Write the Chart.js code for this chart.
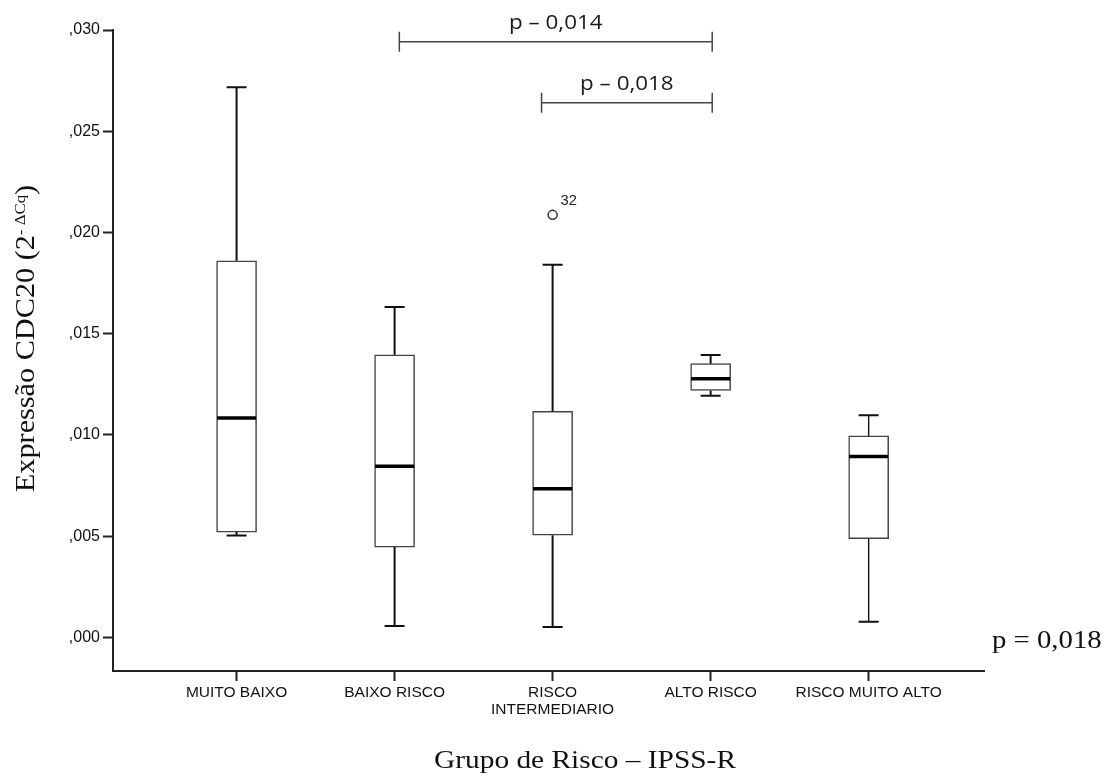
<!DOCTYPE html>
<html>
<head>
<meta charset="utf-8">
<script src="https://cdn.jsdelivr.net/npm/chart.js@4.4.1/dist/chart.umd.min.js"></script>
<style>
  html, body { margin: 0; padding: 0; background: #fff; }
  #wrap { width: 1110px; height: 776px; position: relative; }
</style>
</head>
<body>
<div id="wrap"><canvas id="boxplot"></canvas></div>
<script>
// Box plot values (2^-ΔCq)
const categories = ['MUITO BAIXO', 'BAIXO RISCO', ['RISCO', 'INTERMEDIARIO'], 'ALTO RISCO', 'RISCO MUITO ALTO'];
const whiskerLow = [0.00503, 0.00056, 0.00051, 0.01193, 0.00077];
const q1 = [0.00520, 0.00446, 0.00505, 0.01220, 0.00487];
const medians = [0.01084, 0.00845, 0.00734, 0.01278, 0.00893];
const q3 = [0.01860, 0.01396, 0.01117, 0.01352, 0.00995];
const whiskerHigh = [0.02717, 0.01632, 0.01840, 0.01395, 0.01097];

// outliers
const outlierCategory = [3];
const outlierValues = [0.02087];
const outlierLabels = ['32'];

// y axis
const yTicks = [0, 0.005, 0.010, 0.015, 0.020, 0.025, 0.030];
const yTickLabels = [',000', ',005', ',010', ',015', ',020', ',025', ',030'];

// comparison brackets (x in category units, level in y units)
const bracketFrom = [2.03, 2.93];
const bracketTo = [4.01, 4.01];
const bracketLevel = [0.02942, 0.02641];
const bracketText = ['p – 0,014', 'p – 0,018'];

const overallP = 'p = 0,018';

// draw text squeezed/stretched horizontally
function stretchText(ctx, str, x, y, font, align, sx) {
  ctx.save();
  ctx.font = font;
  ctx.textAlign = 'left';
  const w = ctx.measureText(str).width * sx;
  const x0 = align === 'center' ? x - w / 2 : (align === 'right' ? x - w : x);
  ctx.translate(x0, y);
  ctx.scale(sx, 1);
  ctx.fillText(str, 0, 0);
  ctx.restore();
}

const boxExtras = {
  id: 'boxExtras',
  afterDatasetsDraw(chart) {
    const { ctx, scales: { x, y } } = chart;
    ctx.save();
    ctx.strokeStyle = '#111';
    ctx.lineCap = 'butt';
    categories.forEach((c, i) => {
      const px = x.getPixelForValue(i + 1);
      // whiskers
      ctx.lineWidth = i === 4 ? 1.4 : 2;
      ctx.beginPath();
      ctx.moveTo(px, y.getPixelForValue(q3[i]));
      ctx.lineTo(px, y.getPixelForValue(whiskerHigh[i]));
      ctx.moveTo(px, y.getPixelForValue(q1[i]));
      ctx.lineTo(px, y.getPixelForValue(whiskerLow[i]));
      ctx.stroke();
      // caps
      ctx.lineWidth = 2;
      ctx.beginPath();
      [whiskerHigh[i], whiskerLow[i]].forEach(v => {
        const py = y.getPixelForValue(v);
        ctx.moveTo(px - 10, py);
        ctx.lineTo(px + 10, py);
      });
      ctx.stroke();
      // median
      ctx.lineWidth = 3.5;
      ctx.strokeStyle = '#000';
      ctx.beginPath();
      const pm = y.getPixelForValue(medians[i]);
      ctx.moveTo(px - 19.5, pm);
      ctx.lineTo(px + 19.5, pm);
      ctx.stroke();
      ctx.strokeStyle = '#111';
    });

    // outlier case numbers
    ctx.fillStyle = '#222';
    ctx.textBaseline = 'middle';
    outlierLabels.forEach((t, i) => {
      const px = x.getPixelForValue(outlierCategory[i]);
      const py = y.getPixelForValue(outlierValues[i]);
      stretchText(ctx, t, px + 8, py - 14, '14px "Liberation Sans"', 'left', 1.05);
    });

    // comparison brackets
    ctx.strokeStyle = '#444';
    ctx.lineWidth = 1.5;
    ctx.fillStyle = '#1a1a1a';
    ctx.textBaseline = 'alphabetic';
    bracketText.forEach((t, i) => {
      const x1 = x.getPixelForValue(bracketFrom[i]);
      const x2 = x.getPixelForValue(bracketTo[i]);
      const py = y.getPixelForValue(bracketLevel[i]);
      ctx.beginPath();
      ctx.moveTo(x1, py); ctx.lineTo(x2, py);
      ctx.moveTo(x1, py - 10); ctx.lineTo(x1, py + 10);
      ctx.moveTo(x2, py - 10); ctx.lineTo(x2, py + 10);
      ctx.stroke();
      stretchText(ctx, t, (x1 + x2) / 2, py - 13, '20px "Open Sans"', 'center', 1.12);
    });
    ctx.restore();
  },
  afterDraw(chart) {
    const { ctx, chartArea } = chart;
    ctx.save();
    ctx.fillStyle = '#111';
    ctx.textBaseline = 'alphabetic';
    const serif = '"Liberation Serif", "DejaVu Serif", serif';

    // x axis title
    stretchText(ctx, 'Grupo de Risco – IPSS-R', 585, 768, '26px ' + serif, 'center', 1.13);

    // overall p value at the right of the axis
    stretchText(ctx, overallP, chartArea.right + 8, 648, '25px ' + serif, 'left', 1.15);

    // y axis title with superscript, rotated
    const parts = [
      { t: 'Expressão CDC20 (2', f: '27px ' + serif, dy: 0 },
      { t: '- ΔCq', f: '15px ' + serif, dy: -9 },
      { t: ')', f: '27px ' + serif, dy: 0 }
    ];
    const sx = 1.12;
    let total = 0;
    parts.forEach(p => { ctx.font = p.f; p.w = ctx.measureText(p.t).width * sx; total += p.w; });
    ctx.translate(34, 338.5);
    ctx.rotate(-Math.PI / 2);
    let cx = -total / 2;
    parts.forEach(p => {
      stretchText(ctx, p.t, cx, p.dy, p.f, 'left', sx);
      cx += p.w;
    });
    ctx.restore();
  }
};

const ctx = document.getElementById('boxplot');
new Chart(ctx, {
  type: 'bar',
  data: {
    datasets: [
      {
        type: 'bar',
        data: categories.map((c, i) => ({ x: i + 1, y: [q1[i], q3[i]] })),
        backgroundColor: '#fff',
        borderColor: '#444',
        borderWidth: 1.5,
        borderSkipped: false,
        barThickness: 40
      },
      {
        type: 'scatter',
        data: outlierCategory.map((c, i) => ({ x: c, y: outlierValues[i] })),
        pointRadius: 4.5,
        pointBackgroundColor: '#fff',
        pointBorderColor: '#333',
        pointBorderWidth: 1.5
      }
    ]
  },
  options: {
    responsive: true,
    maintainAspectRatio: false,
    animation: false,
    layout: { padding: { top: 30, right: 126, left: 0, bottom: 0 } },
    plugins: {
      legend: { display: false },
      tooltip: { enabled: false }
    },
    scales: {
      x: {
        type: 'linear',
        min: 0.218,
        max: 5.73,
        offset: false,
        afterBuildTicks: s => { s.ticks = categories.map((c, i) => ({ value: i + 1 })); },
        afterFit: s => { s.height = 105; },
        grid: { offset: false, drawOnChartArea: false, drawTicks: true, tickLength: 10, tickWidth: 2, tickColor: '#222' },
        border: { display: true, color: '#222', width: 2 },
        ticks: {
          callback: (v, i) => categories[i],
          padding: 4,
          maxRotation: 0,
          autoSkip: false,
          color: '#111',
          font: { family: '"Liberation Sans", Arial, sans-serif', size: 15.5, lineHeight: 1.05 }
        }
      },
      y: {
        min: -0.00166,
        max: 0.030,
        afterBuildTicks: s => { s.ticks = yTicks.map(v => ({ value: v })); },
        afterFit: s => { s.width = 113; },
        grid: { drawOnChartArea: false, drawTicks: true, tickLength: 10, tickWidth: 2, tickColor: '#222' },
        border: { display: true, color: '#222', width: 2 },
        ticks: {
          callback: (v, i) => yTickLabels[i],
          padding: 3,
          color: '#111',
          font: { family: '"Liberation Sans", Arial, sans-serif', size: 16 }
        }
      }
    }
  },
  plugins: [boxExtras]
});
</script>
</body>
</html>
